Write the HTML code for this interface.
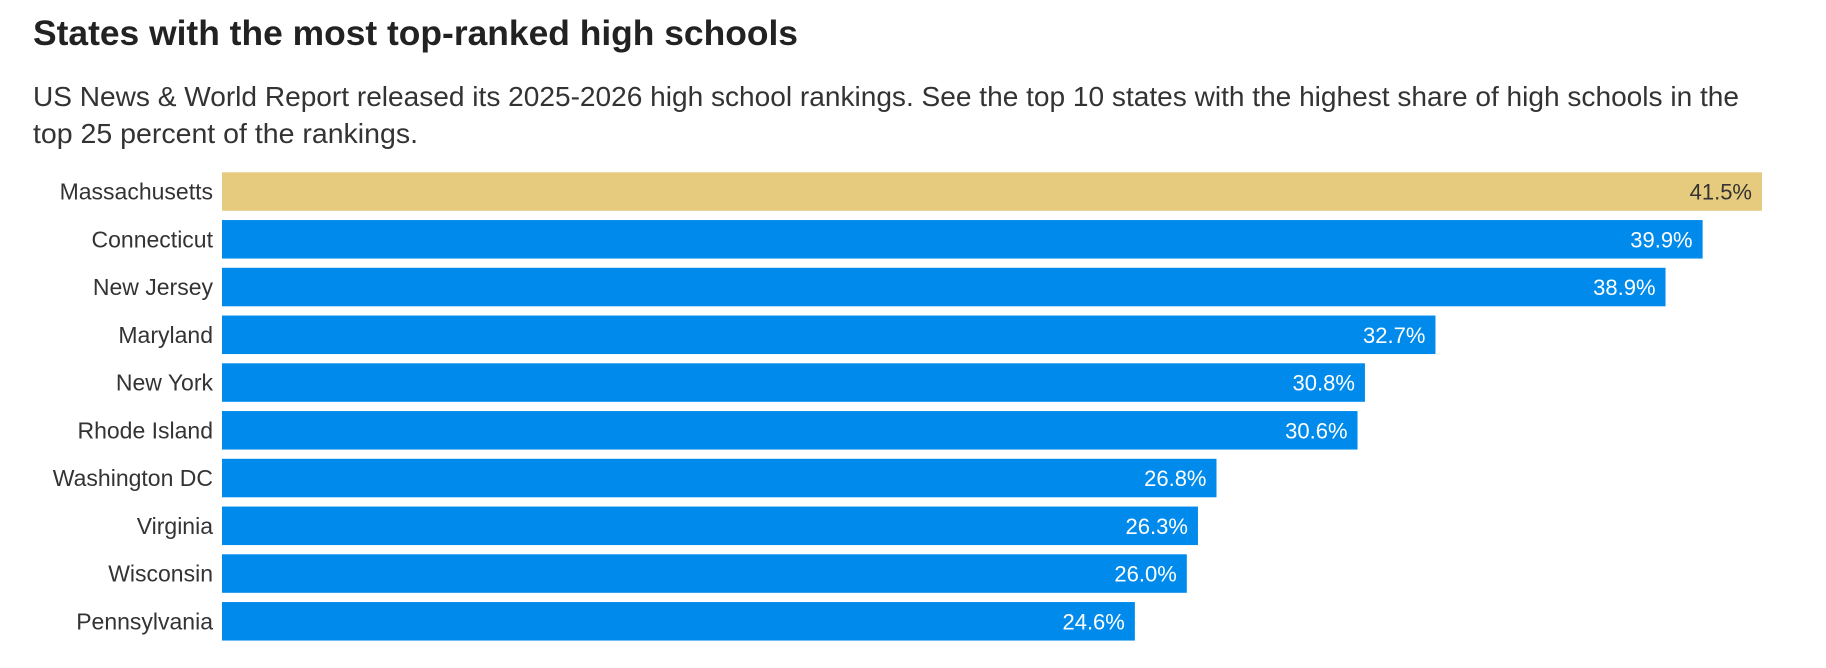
<!DOCTYPE html>
<html><head><meta charset="utf-8"><style>
html,body{margin:0;padding:0;background:#fff;width:1826px;height:668px;overflow:hidden;font-family:"Liberation Sans",sans-serif;}
</style></head><body>
<svg width="1826" height="668" viewBox="0 0 1826 668" xmlns="http://www.w3.org/2000/svg">
<text x="33" y="45" font-size="35" font-weight="bold" fill="#222" textLength="765" lengthAdjust="spacingAndGlyphs">States with the most top-ranked high schools</text>
<text x="33" y="106" font-size="28" fill="#333" textLength="1706" lengthAdjust="spacingAndGlyphs">US News &amp; World Report released its 2025-2026 high school rankings. See the top 10 states with the highest share of high schools in the</text>
<text x="33" y="143" font-size="28" fill="#333" textLength="385" lengthAdjust="spacingAndGlyphs">top 25 percent of the rankings.</text>
<g id="bars"></g>
</svg>
<script>
const states=["Massachusetts","Connecticut","New Jersey","Maryland","New York","Rhode Island","Washington DC","Virginia","Wisconsin","Pennsylvania"];
const values=[41.5,39.9,38.9,32.7,30.8,30.6,26.8,26.3,26.0,24.6];
const valueLabels=["41.5%","39.9%","38.9%","32.7%","30.8%","30.6%","26.8%","26.3%","26.0%","24.6%"];
const NS="http://www.w3.org/2000/svg";
const x0=222,pxPer=1540/41.5,top0=172.3,pitch=47.75,bh=38.5;
const xs=v=>v*pxPer;
const ys=i=>top0+i*pitch;
const g=document.getElementById('bars');
states.forEach((s,i)=>{
  const y=ys(i);
  const r=document.createElementNS(NS,'rect');
  
  
  r.setAttribute('x',x0);r.setAttribute('y',y);r.setAttribute('width',xs(values[i]));r.setAttribute('height',bh);
  r.setAttribute('fill',i===0?'#e6cb7e':'#008bec');
  g.appendChild(r);
  const l=document.createElementNS(NS,'text');
  
  
  l.setAttribute('x',213);l.setAttribute('y',y+bh/2+8);l.setAttribute('text-anchor','end');
  l.setAttribute('font-size','23');l.setAttribute('fill','#333');
  l.textContent=s;g.appendChild(l);
  const t=document.createElementNS(NS,'text');
  
  
  t.setAttribute('x',x0+xs(values[i])-10);t.setAttribute('y',y+bh/2+8);t.setAttribute('text-anchor','end');
  t.setAttribute('font-size','22');t.setAttribute('fill',i===0?'#333':'#fff');
  t.textContent=valueLabels[i];g.appendChild(t);
});
</script>
</body></html>
